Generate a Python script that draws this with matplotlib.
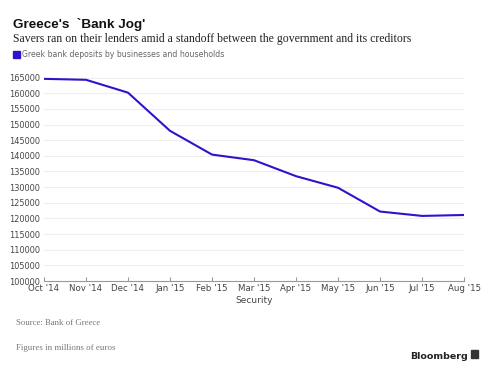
import matplotlib.pyplot as plt
import numpy as np

# Greek bank deposits, millions of euros
months = ["Oct '14", "Nov '14", "Dec '14", "Jan '15", "Feb '15", "Mar '15",
          "Apr '15", "May '15", "Jun '15", "Jul '15", "Aug '15"]
deposits = [164600, 164300, 160200, 148000, 140400, 138600,
            133500, 129800, 122200, 120800, 121100]
yticks = list(range(100000, 165001, 5000))

line_color = '#3311cc'

fig = plt.figure(figsize=(4.88, 3.70), dpi=100)
ax = fig.add_axes([0.090, 0.2405, 0.861, 0.554])

x = np.arange(len(months))
ax.plot(x, deposits, color=line_color, lw=1.5, solid_joinstyle='round')

ax.set_xlim(0, len(months) - 1)
ax.set_ylim(100000, 165500)
ax.set_yticks(yticks)
ax.set_yticklabels([str(v) for v in yticks])
ax.set_xticks(x)
ax.set_xticklabels(months)
ax.grid(axis='y', color='#eeeeee', lw=0.8)
ax.set_axisbelow(True)

for s in ['top', 'right', 'left']:
    ax.spines[s].set_visible(False)
ax.spines['bottom'].set_color('#999999')
ax.spines['bottom'].set_linewidth(0.8)
ax.tick_params(axis='y', length=0, labelsize=5.9, labelcolor='#444444', pad=3)
ax.tick_params(axis='x', direction='in', length=3, color='#999999',
               labelsize=6.2, labelcolor='#444444', pad=2.5)
ax.set_xlabel('Security', fontsize=6.5, color='#444444', labelpad=2)

fig.text(0.027, 0.925, "Greece's  `Bank Jog'", fontsize=9.7, fontweight='bold',
         family='Liberation Sans', color='#111111')
fig.text(0.027, 0.887, 'Savers ran on their lenders amid a standoff between the government and its creditors',
         fontsize=8.5, family='Liberation Serif', color='#222222')
fig.patches.append(plt.Rectangle((0.027, 0.843), 0.014, 0.019, color=line_color,
                                 transform=fig.transFigure, figure=fig))
fig.text(0.046, 0.845, 'Greek bank deposits by businesses and households',
         fontsize=5.6, color='#666666')
fig.text(0.033, 0.121, 'Source: Bank of Greece', fontsize=6.3,
         family='Liberation Serif', color='#777777')
fig.text(0.033, 0.053, 'Figures in millions of euros', fontsize=6.4,
         family='Liberation Serif', color='#777777')
fig.text(0.958, 0.030, 'Bloomberg', fontsize=6.8, fontweight='bold',
         ha='right', color='#222222')
fig.patches.append(plt.Rectangle((0.966, 0.033), 0.014, 0.020, color='#333333',
                                 transform=fig.transFigure, figure=fig))

fig.savefig('out.png', dpi=100)
